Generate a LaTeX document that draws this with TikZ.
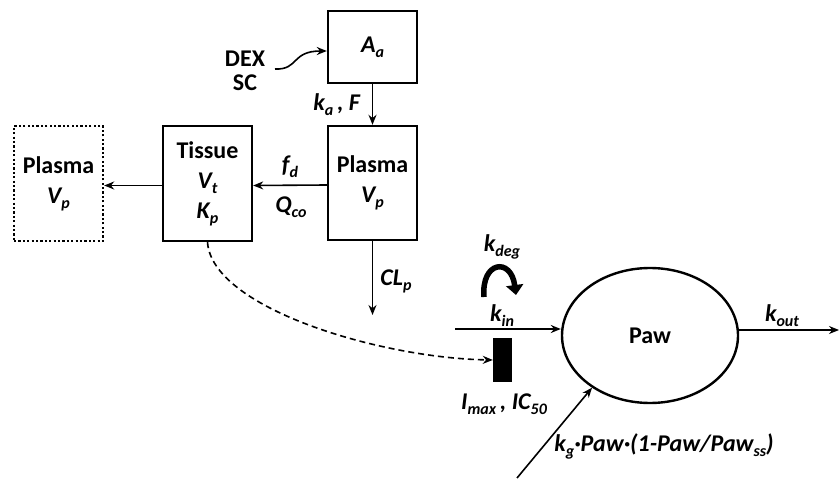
\documentclass[tikz,border=0pt]{standalone}
\usepackage{fontspec}
\setmainfont{Carlito}
\usetikzlibrary{shapes.geometric,arrows.meta}
\newcommand\sbs[1]{\raisebox{-5pt}{\fontsize{16}{16}\selectfont #1}}
\newcommand\vv[2]{\textit{#1\sbs{#2}}}
\begin{document}
\begin{tikzpicture}[x=1pt,y=-1pt,
  font=\fontsize{24}{30}\selectfont\bfseries,
  box/.style={draw, line width=2.4pt, minimum width=89pt, inner sep=0pt, align=center},
  dotbox/.style={box, dash pattern=on 2.2pt off 2.2pt},
  arr/.style={line width=1.6pt, -{Stealth[length=10pt,width=8pt]}},
  dasharr/.style={arr, dash pattern=on 6pt off 4pt},
  lab/.style={inner sep=0pt, align=center},
  blocker/.style={fill=black, minimum width=19pt, minimum height=44pt, inner sep=0pt},
  pawnode/.style={draw, ellipse, line width=2.4pt, minimum width=176pt, minimum height=135pt, inner sep=0pt}
]
\useasboundingbox (0,0) rectangle (840,481);

% compartments
\node[box, minimum height=72pt] (aa) at (372.5,47) {\vv{A}{a}};
\node[box, minimum height=114pt] (pl) at (372.5,183) {Plasma\\\vv{V}{p}};
\node[box, minimum height=115pt] (ti) at (207.5,183.5) {Tissue\\\vv{V}{t}\\\vv{K}{p}};
\node[dotbox, minimum height=115pt] (pd) at (58.5,183.5) {Plasma\\\vv{V}{p}};

% dosing
\node[lab, font=\fontsize{24}{24}\selectfont\bfseries] (dex) at (245,71) {DEX\\SC};
\coordinate (dexs) at (275,69);
\draw[arr] (dexs) .. controls (299,70) and (291,51) .. ([yshift=-4pt]aa.west);

% PK arrows
\draw[arr] (aa) -- (pl);
\node[lab] (ka) at (337,105) {\vv{k}{a}\textit{\,, F}};
\draw[arr] ([yshift=-2pt]pl.west) -- ([yshift=-2pt]ti.east);
\node[lab] (fd) at (290,167) {\vv{f}{d}};
\node[lab] (qco) at (291,207) {\vv{Q}{co}};
\draw[arr] ([yshift=-2pt]ti.west) -- ([yshift=-2pt]pd.east);
\coordinate (clend) at (372.5,315);
\draw[arr] (pl.south) -- (clend);
\node[lab] (clp) at (396,281) {\vv{CL}{p}};

% PD part
\node[pawnode] (paw) at (650,335.5) {Paw};
\node[blocker] (blk) at (502.5,360) {};
\draw[dasharr] (ti.south) .. controls (212,308) and (380,358) .. (blk.west);

\coordinate (kins) at (455,329);
\draw[arr] (kins) -- (kins -| paw.west);
\node[lab] (kin) at (502,316) {\vv{k}{in}};
\node[lab] (kdeg) at (502,247) {\vv{k}{deg}};
\draw[line width=5.5pt, -{Triangle[length=10pt,width=17pt]}] (484,297) .. controls (481,261) and (511,257) .. (516,295);

\coordinate (kouts) at (839,330);
\draw[arr] (paw.east |- kouts) -- (kouts);
\node[lab] (kout) at (782,316) {\vv{k}{out}};

\node[lab] (imax) at (504,404) {\vv{I}{max}\textit{\,,} \vv{IC}{50}};

\coordinate (gs) at (517,478);
\draw[arr] (gs) -- (paw.222);
\node[lab] (kg) at (664,446) {\textit{k\sbs{g}·Paw·(1-Paw/Paw\sbs{ss})}};
\end{tikzpicture}
\end{document}
